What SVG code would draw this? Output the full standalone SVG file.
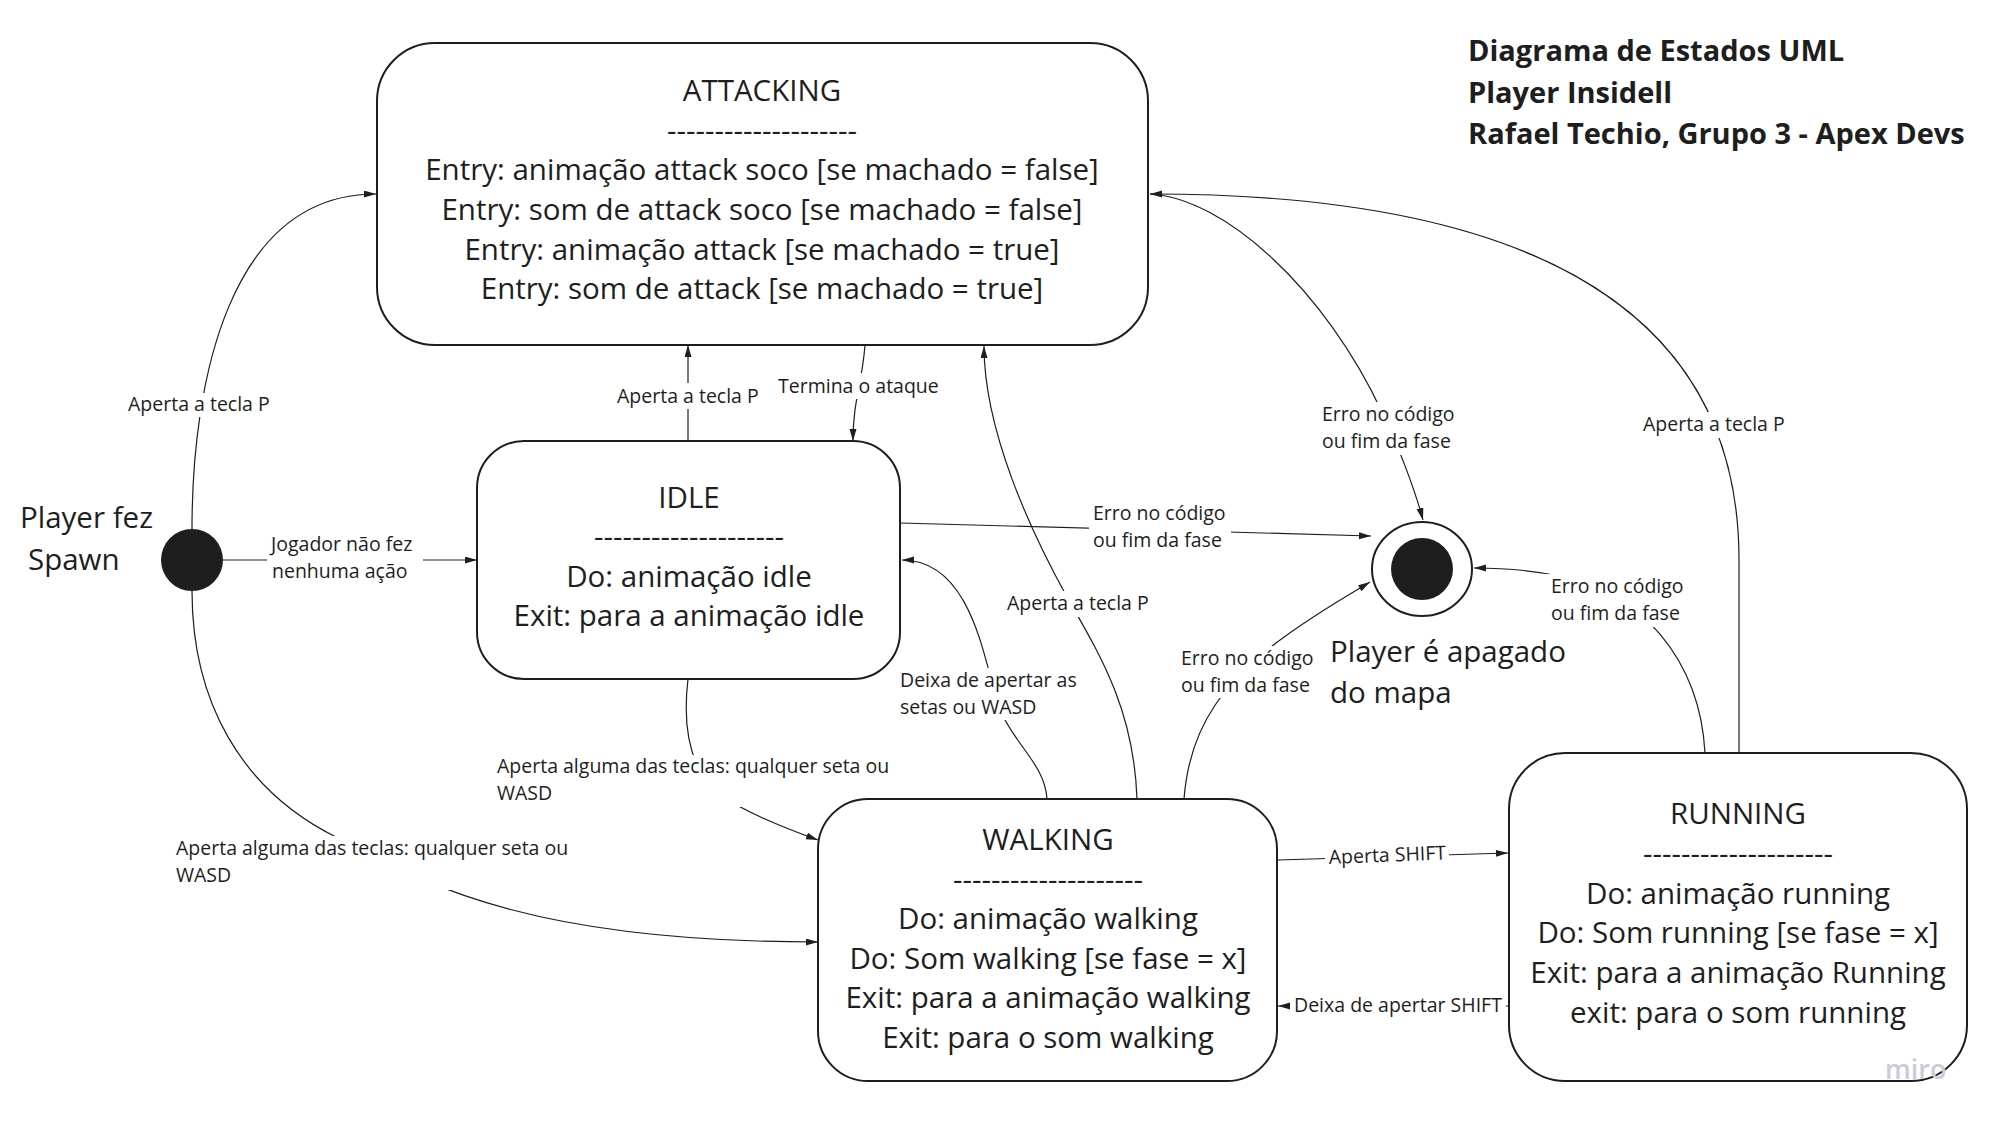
<svg xmlns="http://www.w3.org/2000/svg" width="1994" height="1127" viewBox="0 0 1994 1127">
<defs>
<marker id="arr" markerUnits="userSpaceOnUse" markerWidth="13" markerHeight="8" refX="12" refY="3.5" orient="auto">
<path d="M0,0 L12,3.5 L0,7 z" fill="#1e1e1e"/>
</marker>
</defs>
<style>
.node{fill:#fff;stroke:#1e1e1e;stroke-width:2}
.nt{font-family:"Open Sans","Liberation Sans",sans-serif;font-size:29.5px;fill:#1e1e1e;text-anchor:middle}
.big{font-family:"Open Sans","Liberation Sans",sans-serif;font-size:29.5px;fill:#1e1e1e}
.title{font-family:"Open Sans","Liberation Sans",sans-serif;font-size:29px;font-weight:700;fill:#1e1e1e}
.lbl{font-family:"Open Sans","Liberation Sans",sans-serif;font-size:19.5px;fill:#1e1e1e}
.c{fill:none;stroke:#1e1e1e;stroke-width:1.2}
.bg{fill:#fff}
</style>
<rect width="1994" height="1127" fill="#fff"/>

<g id="connectors">
<path class="c" d="M192,529 C192,380 230,194 376,194" marker-end="url(#arr)"/>
<path class="c" d="M223,560 L477,560" marker-end="url(#arr)"/>
<path class="c" d="M192,591 C192,700 240,790 338,838 C420,880 520,942 818,942" marker-end="url(#arr)"/>
<path class="c" d="M688,441 L688,345" marker-end="url(#arr)"/>
<path class="c" d="M865,345 C862,385 853,400 853,441" marker-end="url(#arr)"/>
<path class="c" d="M900,523 L1371,536" marker-end="url(#arr)"/>
<path class="c" d="M1047,799 C1045,765 1015,745 1000,710 C985,670 975,560 902,560" marker-end="url(#arr)"/>
<path class="c" d="M1137,799 C1134,710 1100,655 1067,597 C1030,530 984,430 984,346" marker-end="url(#arr)"/>
<path class="c" d="M1184,799 C1190,720 1230,680 1276,643 C1310,617 1345,597 1370,582" marker-end="url(#arr)"/>
<path class="c" d="M1150,194 C1225,198 1325,290 1382,412 C1398,445 1415,490 1423,520" marker-end="url(#arr)"/>
<path class="c" d="M1739,753 L1739,560 C1739,315 1540,194 1150,194" marker-end="url(#arr)"/>
<path class="c" d="M1705,753 C1700,660 1640,590 1560,576 C1530,570 1500,568 1474,568" marker-end="url(#arr)"/>
<path class="c" d="M1278,860 L1508,853" marker-end="url(#arr)"/>
<path class="c" d="M1509,1006 L1278,1006" marker-end="url(#arr)"/>
<path class="c" d="M688,679 C682,730 690,770 720,795 C750,815 790,830 818,840" marker-end="url(#arr)"/>

<rect class="bg" x="124" y="393" width="148" height="24"/>
<text class="lbl" x="128" y="411">Aperta a tecla P</text>
<rect class="bg" x="267" y="533" width="156" height="52"/>
<text class="lbl" x="271" y="551">Jogador não fez</text>
<text class="lbl" x="272" y="578">nenhuma ação</text>
<rect class="bg" x="172" y="836" width="400" height="54"/>
<text class="lbl" x="176" y="855">Aperta alguma das teclas: qualquer seta ou</text>
<text class="lbl" x="176" y="882">WASD</text>
<rect class="bg" x="613" y="383" width="148" height="26"/>
<text class="lbl" x="617" y="403">Aperta a tecla P</text>
<rect class="bg" x="774" y="373" width="168" height="26"/>
<text class="lbl" x="778" y="393">Termina o ataque</text>
<rect class="bg" x="1089" y="501" width="142" height="52"/>
<text class="lbl" x="1093" y="520">Erro no código</text>
<text class="lbl" x="1093" y="547">ou fim da fase</text>
<rect class="bg" x="1003" y="591" width="152" height="26"/>
<text class="lbl" x="1007" y="610">Aperta a tecla P</text>
<rect class="bg" x="896" y="668" width="184" height="52"/>
<text class="lbl" x="900" y="687">Deixa de apertar as</text>
<text class="lbl" x="900" y="714">setas ou WASD</text>
<rect class="bg" x="1177" y="646" width="142" height="52"/>
<text class="lbl" x="1181" y="665">Erro no código</text>
<text class="lbl" x="1181" y="692">ou fim da fase</text>
<rect class="bg" x="1318" y="402" width="142" height="53"/>
<text class="lbl" x="1322" y="421">Erro no código</text>
<text class="lbl" x="1322" y="448">ou fim da fase</text>
<rect class="bg" x="1639" y="412" width="150" height="26"/>
<text class="lbl" x="1643" y="431">Aperta a tecla P</text>
<rect class="bg" x="1547" y="574" width="142" height="53"/>
<text class="lbl" x="1551" y="593">Erro no código</text>
<text class="lbl" x="1551" y="620">ou fim da fase</text>
<rect class="bg" x="1325" y="842" width="124" height="27"/>
<text class="lbl" x="1329" y="864" transform="rotate(-2.2 1329 864)">Aperta SHIFT</text>
<rect class="bg" x="1290" y="992" width="216" height="26"/>
<text class="lbl" x="1294" y="1012">Deixa de apertar SHIFT</text>
<rect class="bg" x="492" y="755" width="404" height="52"/>
<text class="lbl" x="497" y="773">Aperta alguma das teclas: qualquer seta ou</text>
<text class="lbl" x="497" y="800">WASD</text>
</g>

<g id="title">
<text class="title" x="1468" y="61">Diagrama de Estados UML</text>
<text class="title" x="1468" y="103">Player Insidell</text>
<text class="title" x="1468" y="144">Rafael Techio, Grupo 3 - Apex Devs</text>
</g>

<g id="initial">
<circle cx="192" cy="560" r="31" fill="#1e1e1e"/>
<text class="big" x="20" y="528">Player fez</text>
<text class="big" x="28" y="570">Spawn</text>
</g>

<g id="final">
<ellipse cx="1422" cy="569" rx="50" ry="47" fill="#fff" stroke="#1e1e1e" stroke-width="2"/>
<circle cx="1422" cy="569" r="31" fill="#1e1e1e"/>
<text class="big" x="1330" y="662">Player é apagado</text>
<text class="big" x="1330" y="703">do mapa</text>
</g>

<g id="attacking">
<rect class="node" x="377" y="43" width="771" height="302" rx="58" ry="58"/>
<text class="nt" x="762" y="101">ATTACKING</text>
<text class="nt" x="762" y="141">--------------------</text>
<text class="nt" x="762" y="180">Entry: animação attack soco [se machado = false]</text>
<text class="nt" x="762" y="220">Entry: som de attack soco [se machado = false]</text>
<text class="nt" x="762" y="260">Entry: animação attack [se machado = true]</text>
<text class="nt" x="762" y="299">Entry: som de attack [se machado = true]</text>
</g>

<g id="idle">
<rect class="node" x="477" y="441" width="423" height="238" rx="47" ry="47"/>
<text class="nt" x="689" y="508">IDLE</text>
<text class="nt" x="689" y="547">--------------------</text>
<text class="nt" x="689" y="587">Do: animação idle</text>
<text class="nt" x="689" y="626">Exit: para a animação idle</text>
</g>

<g id="walking">
<rect class="node" x="818" y="799" width="459" height="282" rx="50" ry="50"/>
<text class="nt" x="1048" y="850">WALKING</text>
<text class="nt" x="1048" y="890">--------------------</text>
<text class="nt" x="1048" y="929">Do: animação walking</text>
<text class="nt" x="1048" y="969">Do: Som walking [se fase = x]</text>
<text class="nt" x="1048" y="1008">Exit: para a animação walking</text>
<text class="nt" x="1048" y="1048">Exit: para o som walking</text>
</g>

<g id="running">
<rect class="node" x="1509" y="753" width="458" height="328" rx="56" ry="56"/>
<text class="nt" x="1738" y="824">RUNNING</text>
<text class="nt" x="1738" y="864">--------------------</text>
<text class="nt" x="1738" y="904">Do: animação running</text>
<text class="nt" x="1738" y="943">Do: Som running [se fase = x]</text>
<text class="nt" x="1738" y="983">Exit: para a animação Running</text>
<text class="nt" x="1738" y="1023">exit: para o som running</text>
</g>

<g id="watermark">
<text x="1885" y="1079" font-family="'Open Sans','Liberation Sans',sans-serif" font-size="27" font-weight="600" fill="#c9ccd8">miro</text>
</g>
</svg>
